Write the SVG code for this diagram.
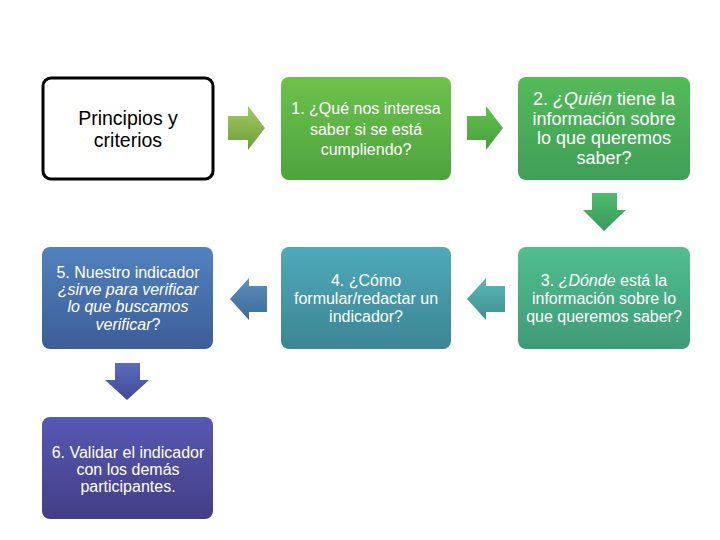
<svg xmlns="http://www.w3.org/2000/svg" width="720" height="540" viewBox="0 0 720 540">
<defs>
<linearGradient id="g1" x1="0" y1="0" x2="0" y2="1"><stop offset="0" stop-color="#6cc24b"/><stop offset="1" stop-color="#4fa33f"/></linearGradient>
<linearGradient id="g2" x1="0" y1="0" x2="0" y2="1"><stop offset="0" stop-color="#54ba58"/><stop offset="1" stop-color="#3f9f58"/></linearGradient>
<linearGradient id="g3" x1="0" y1="0" x2="0" y2="1"><stop offset="0" stop-color="#50be90"/><stop offset="1" stop-color="#3f9b77"/></linearGradient>
<linearGradient id="g4" x1="0" y1="0" x2="0" y2="1"><stop offset="0" stop-color="#4eaab9"/><stop offset="1" stop-color="#3c8594"/></linearGradient>
<linearGradient id="g5" x1="0" y1="0" x2="0" y2="1"><stop offset="0" stop-color="#5082bf"/><stop offset="1" stop-color="#3c5d98"/></linearGradient>
<linearGradient id="g6" x1="0" y1="0" x2="0" y2="1"><stop offset="0" stop-color="#5658b2"/><stop offset="1" stop-color="#433e85"/></linearGradient>
<linearGradient id="a1" x1="0" y1="0" x2="0" y2="1"><stop offset="0" stop-color="#a3cc62"/><stop offset="1" stop-color="#6c9c3a"/></linearGradient>
<linearGradient id="a2" x1="0" y1="0" x2="0" y2="1"><stop offset="0" stop-color="#64c04c"/><stop offset="1" stop-color="#45a03e"/></linearGradient>
<linearGradient id="a3" x1="0" y1="0" x2="0" y2="1"><stop offset="0" stop-color="#4dbb70"/><stop offset="1" stop-color="#3a9a5a"/></linearGradient>
<linearGradient id="a4" x1="0" y1="0" x2="0" y2="1"><stop offset="0" stop-color="#5cb8b8"/><stop offset="1" stop-color="#3f908e"/></linearGradient>
<linearGradient id="a5" x1="0" y1="0" x2="0" y2="1"><stop offset="0" stop-color="#5a90c0"/><stop offset="1" stop-color="#3c6a95"/></linearGradient>
<linearGradient id="a6" x1="0" y1="0" x2="0" y2="1"><stop offset="0" stop-color="#5b6cbc"/><stop offset="1" stop-color="#3f4a95"/></linearGradient>
</defs>
<style>
text{font-family:"Liberation Sans",Arial,sans-serif;text-anchor:middle;}
.w{fill:#ffffff;font-size:16px;}
.b{fill:#000000;font-size:19.5px;}
.w2{fill:#ffffff;font-size:18px;}
</style>
<rect width="720" height="540" fill="#ffffff"/>
<g id="connectors">
<polygon points="228,116 248,116 248,106 265,128 248,150 248,140 228,140" fill="url(#a1)"/>
<polygon points="467,116 486,116 486,106 503,128 486,150 486,140 467,140" fill="url(#a2)"/>
<polygon points="592,193 617,193 617,210 626,210 604,231 583,210 592,210" fill="url(#a3)"/>
<polygon points="505,286 486,286 486,278 467,299 486,320 486,312 505,312" fill="url(#a4)"/>
<polygon points="267,286 249,286 249,278 230,299 249,320 249,312 267,312" fill="url(#a5)"/>
<polygon points="115,363 140,363 140,380 149,380 127,400 105,380 115,380" fill="url(#a6)"/>
</g>
<g id="n0">
<rect x="43" y="78" width="170" height="101" rx="8" fill="#ffffff" stroke="#000000" stroke-width="3"/>
<text class="b" x="128" y="125">Principios y</text>
<text class="b" x="128" y="147">criterios</text>
</g>
<g id="n1">
<rect x="281" y="77" width="170" height="103" rx="8" fill="url(#g1)"/>
<text class="w" x="366" y="114">1. ¿Qué nos interesa</text>
<text class="w" x="366" y="135">saber si se está</text>
<text class="w" x="366" y="155">cumpliendo?</text>
</g>
<g id="n2">
<rect x="518" y="77" width="172" height="103" rx="8" fill="url(#g2)"/>
<text class="w2" x="604" y="105">2. <tspan font-style="italic">¿Quién</tspan> tiene la</text>
<text class="w2" x="604" y="125">información sobre</text>
<text class="w2" x="604" y="144">lo que queremos</text>
<text class="w2" x="604" y="164">saber?</text>
</g>
<g id="n3">
<rect x="518" y="247" width="172" height="102" rx="8" fill="url(#g3)"/>
<text class="w" x="604" y="286">3. <tspan font-style="italic">¿Dónde</tspan> está la</text>
<text class="w" x="604" y="304">información sobre lo</text>
<text class="w" x="604" y="322">que queremos saber?</text>
</g>
<g id="n4">
<rect x="281" y="247" width="170" height="102" rx="8" fill="url(#g4)"/>
<text class="w" x="366" y="286">4. ¿Cómo</text>
<text class="w" x="366" y="304">formular/redactar un</text>
<text class="w" x="366" y="322">indicador?</text>
</g>
<g id="n5">
<rect x="42" y="247" width="171" height="102" rx="8" fill="url(#g5)"/>
<text class="w" x="128" y="278">5. Nuestro indicador</text>
<text class="w" x="128" y="295" font-style="italic">¿sirve para verificar</text>
<text class="w" x="128" y="312" font-style="italic">lo que buscamos</text>
<text class="w" x="128" y="330"><tspan font-style="italic">verificar</tspan>?</text>
</g>
<g id="n6">
<rect x="42" y="417" width="171" height="102" rx="8" fill="url(#g6)"/>
<text class="w" x="128" y="458">6. Validar el indicador</text>
<text class="w" x="128" y="475">con los demás</text>
<text class="w" x="128" y="492">participantes.</text>
</g>
</svg>
